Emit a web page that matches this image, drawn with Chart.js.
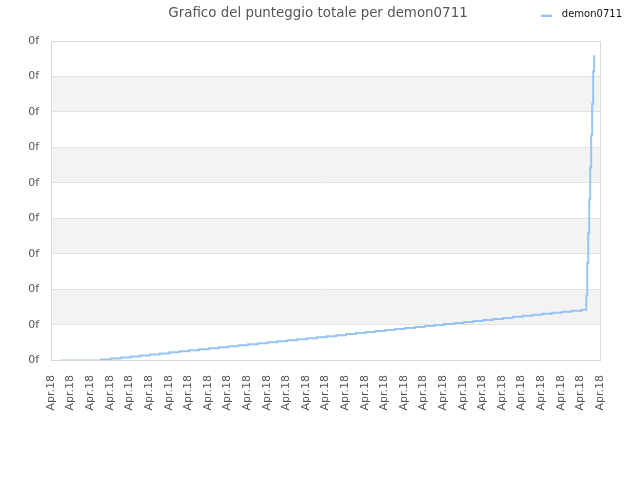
<!DOCTYPE html>
<html>
<head>
<meta charset="utf-8">
<title>Grafico del punteggio totale per demon0711</title>
<script src="https://cdn.jsdelivr.net/npm/chart.js@4.4.1/dist/chart.umd.min.js"></script>
<style>
  html, body { margin: 0; padding: 0; background: #fff; }
  #wrap { width: 640px; height: 480px; }
</style>
</head>
<body>
<div id="wrap"><canvas id="grafico" width="640" height="480"></canvas></div>
<script>
// etichette asse x (una ogni 2 unita')
const tickLabels = ['Apr.18','Apr.18','Apr.18','Apr.18','Apr.18','Apr.18','Apr.18','Apr.18','Apr.18','Apr.18',
  'Apr.18','Apr.18','Apr.18','Apr.18','Apr.18','Apr.18','Apr.18','Apr.18','Apr.18','Apr.18',
  'Apr.18','Apr.18','Apr.18','Apr.18','Apr.18','Apr.18','Apr.18','Apr.18','Apr.18'];

// etichette asse y (tutte "0f" come nell'originale)
const yTickLabels = ['0f','0f','0f','0f','0f','0f','0f','0f','0f','0f'];

// posizione di ogni partita sull'asse x
const puntiX = [1.0, 5.1, 6.1, 7.1, 8.1, 9.1, 10.1, 11.1, 12.1, 13.1, 14.1,
  15.1, 16.1, 17.1, 18.1, 19.1, 20.1, 21.1, 22.1, 23.1, 24.1,
  25.1, 26.1, 27.1, 28.1, 29.1, 30.1, 31.1, 32.1, 33.1, 34.1,
  35.1, 36.1, 37.1, 38.1, 39.1, 40.1, 41.1, 42.1, 43.1, 44.1,
  45.1, 46.1, 47.1, 48.1, 49.1, 50.1, 51.1, 52.1, 53.1, 54.1,
  54.6, 54.7, 54.8, 54.9, 55.0, 55.1, 55.2, 55.3, 55.4];

// punteggio totale
const punteggio = [0, 1, 2, 3, 4, 5, 6, 7, 8, 9, 10,
  11, 12, 13, 14, 15, 16, 17, 18, 19, 20,
  21, 22, 23, 24, 25, 26, 27, 28, 29, 30,
  31, 32, 33, 34, 35, 36, 37, 38, 39, 40,
  41, 42, 43, 44, 45, 46, 47, 48, 49, 50,
  64, 96, 126, 159, 190, 222, 253, 285, 301];

const coloreLinea = '#97c4f3';

// trattino della legenda (linea corta a sinistra, spazio vuoto a destra)
const trattino = document.createElement('canvas');
trattino.width = 16;
trattino.height = 4;
const tctx = trattino.getContext('2d');
tctx.fillStyle = coloreLinea;
tctx.fillRect(0, 2, 11, 2);

// bande grigie alternate + riquadro del grafico
const sfondoBande = {
  id: 'sfondoBande',
  beforeDraw(chart) {
    const ctx = chart.ctx;
    const area = chart.chartArea;
    const y = chart.scales.y;
    ctx.save();
    ctx.fillStyle = '#ffffff';
    ctx.fillRect(0, 0, chart.width, chart.height);
    ctx.fillStyle = '#f3f3f3';
    for (let i = 1; i < 9; i += 2) {
      const top = y.getPixelForValue((i + 1) * 35);
      const bottom = y.getPixelForValue(i * 35);
      ctx.fillRect(area.left, top, area.right - area.left, bottom - top);
    }
    ctx.restore();
  },
  afterDraw(chart) {
    const ctx = chart.ctx;
    const area = chart.chartArea;
    ctx.save();
    ctx.strokeStyle = '#d9d9d9';
    ctx.lineWidth = 1;
    ctx.strokeRect(Math.round(area.left) + 0.5, Math.round(area.top) + 0.5,
      Math.round(area.right - area.left), Math.round(area.bottom - area.top));
    ctx.restore();
  }
};

const dati = puntiX.map((x, i) => ({ x: x, y: punteggio[i] }));

new Chart(document.querySelector('#grafico'), {
  type: 'line',
  data: {
    datasets: [{
      label: 'demon0711',
      data: dati,
      borderColor: coloreLinea,
      backgroundColor: coloreLinea,
      borderWidth: 2,
      pointRadius: 0,
      stepped: true,
      fill: false
    }]
  },
  options: {
    responsive: false,
    animation: false,
    layout: { padding: { left: 1, right: 5, bottom: 56, top: 0 } },
    plugins: {
      title: {
        display: true,
        text: 'Grafico del punteggio totale per demon0711',
        color: '#555555',
        font: { family: 'DejaVu Sans', size: 13.4, weight: 'normal' },
        padding: { top: 5, bottom: -24.5 }
      },
      legend: {
        position: 'top',
        align: 'end',
        labels: {
          color: '#111111',
          font: { family: 'DejaVu Sans', size: 10 },
          usePointStyle: true,
          pointStyle: trattino,
          pointStyleWidth: 16,
          padding: 13
        }
      },
      tooltip: { enabled: false }
    },
    scales: {
      x: {
        type: 'linear',
        min: 0,
        max: 56,
        grid: { display: false },
        border: { display: false },
        ticks: {
          stepSize: 2,
          autoSkip: false,
          maxRotation: 90,
          minRotation: 90,
          padding: 10,
          color: '#555555',
          font: { family: 'DejaVu Sans', size: 11 },
          callback: (v, i) => tickLabels[i]
        }
      },
      // asse vuoto in alto: solo spazio sotto la legenda
      x2: {
        type: 'linear',
        position: 'top',
        min: 0,
        max: 1,
        grid: { display: false },
        border: { display: false },
        ticks: { display: false },
        afterFit: (s) => { s.height = 8; }
      },
      y: {
        min: 0,
        max: 315,
        grid: { color: '#e2e2e2', drawTicks: false },
        border: { display: false },
        ticks: {
          stepSize: 35,
          padding: 12,
          color: '#555555',
          font: { family: 'DejaVu Sans', size: 11 },
          callback: (v, i) => yTickLabels[i]
        },
        afterFit: (s) => { s.width = 50; }
      },
      // asse vuoto a destra: margine tra grafico e bordo
      y2: {
        position: 'right',
        min: 0,
        max: 1,
        grid: { display: false },
        border: { display: false },
        ticks: { display: false },
        afterFit: (s) => { s.width = 35; }
      }
    }
  },
  plugins: [sfondoBande]
});
</script>
</body>
</html>
